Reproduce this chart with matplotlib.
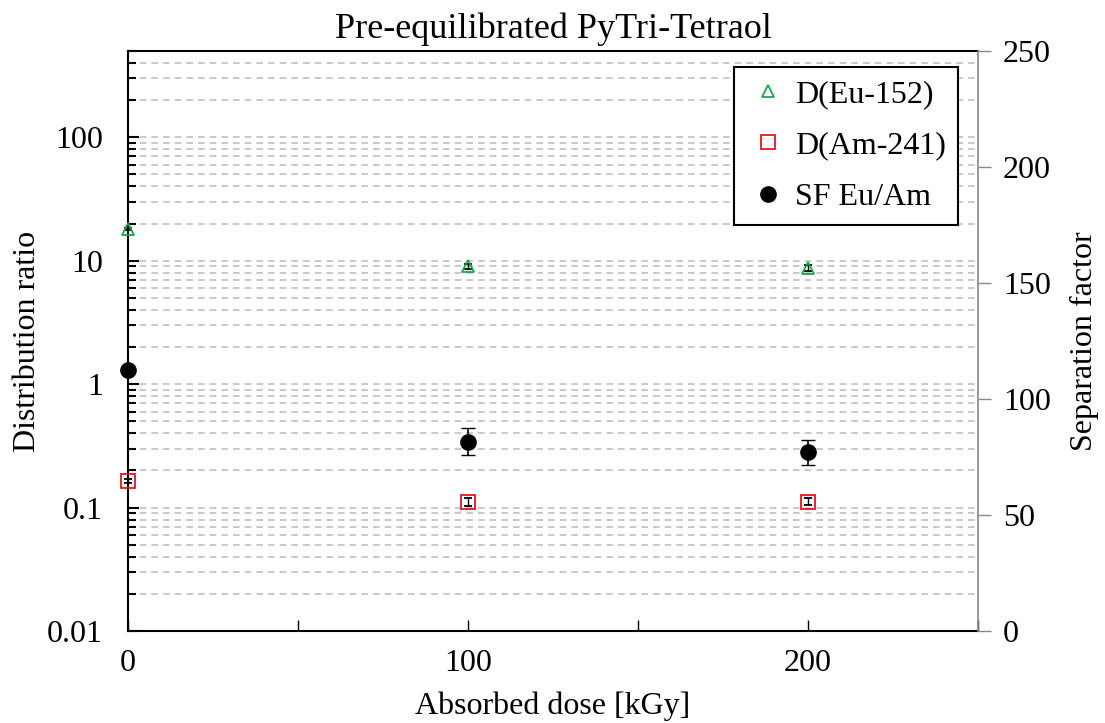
import numpy as np
import matplotlib.pyplot as plt
from matplotlib.ticker import FixedLocator, LogLocator, NullFormatter, FuncFormatter

# data
dose = [0, 100, 200]
d_eu = [18.1, 9.0, 8.75]
d_eu_err = [0.3, 0.45, 0.45]
d_am = [0.163, 0.111, 0.112]
d_am_err = [0.006, 0.008, 0.008]
sf = [112.5, 81.6, 77.0]
sf_err = [0.0, 5.9, 5.5]

x_ticks = [0, 50, 100, 150, 200, 250]
x_labels = ['0', '', '100', '', '200', '']

plt.rcParams['font.family'] = ['Liberation Serif', 'DejaVu Serif']
plt.rcParams['font.size'] = 23

fig = plt.figure(figsize=(11.05, 7.23), dpi=100)
ax = fig.add_axes([0.1158, 0.1272, 0.7692, 0.8023])
ax2 = ax.twinx()

ax.set_yscale('log')
ax.set_ylim(0.01, 500)
ax.set_xlim(0, 250)
ax2.set_ylim(0, 250)

# horizontal dashed grid at every decade step
ax.yaxis.set_major_locator(LogLocator(base=10, numticks=10))
ax.yaxis.set_minor_locator(LogLocator(base=10, subs=np.arange(2, 10), numticks=20))
ax.yaxis.set_minor_formatter(NullFormatter())
ax.yaxis.set_major_formatter(FuncFormatter(lambda v, p: '%g' % v))
ax.grid(True, which='both', axis='y', color='#c0c0c0', linestyle=(0, (4, 3)), linewidth=1.2)
ax.set_axisbelow(True)

ax.xaxis.set_major_locator(FixedLocator(x_ticks))
ax.set_xticklabels(x_labels)
ax.tick_params(axis='x', direction='in', length=8, width=1, pad=13, top=False)
ax.tick_params(axis='y', which='major', direction='in', length=8, width=1.5, pad=18)
ax.tick_params(axis='y', which='minor', direction='in', length=6, width=1.5)
for s in ['left', 'bottom', 'top']:
    ax.spines[s].set_linewidth(1.5)
ax.spines['right'].set_visible(False)

ax2.spines['right'].set_color('#888888')
ax2.spines['right'].set_linewidth(1.2)
for s in ['left', 'bottom', 'top']:
    ax2.spines[s].set_visible(False)
ax2.yaxis.set_major_locator(FixedLocator([0, 50, 100, 150, 200, 250]))
ax2.tick_params(axis='y', direction='out', length=9, width=1, color='#888888', pad=9)

h1 = ax.errorbar(dose, d_eu, yerr=d_eu_err, fmt='^', mfc='none', mec='#1aa64a', mew=1.3,
                 ms=9, ecolor='black', elinewidth=1, capsize=3, clip_on=False, zorder=5)
h2 = ax.errorbar(dose, d_am, yerr=d_am_err, fmt='s', mfc='none', mec='#e8141c', mew=1.3,
                 ms=10, ecolor='black', elinewidth=1, capsize=3, clip_on=False, zorder=5)
h3 = ax2.errorbar(dose, sf, yerr=sf_err, fmt='o', color='black', ms=11,
                  ecolor='black', elinewidth=1.2, capsize=5, clip_on=False, zorder=5)

ax.set_title('Pre-equilibrated PyTri-Tetraol', fontsize=26, pad=9)
ax.set_xlabel('Absorbed dose [kGy]', labelpad=10)
ax.set_ylabel('Distribution ratio', labelpad=4)
ax2.set_ylabel('Separation factor', labelpad=14)

handles = [h1[0], h2[0], h3[0]]
leg = ax2.legend(handles, ['D(Eu-152)', 'D(Am-241)', 'SF Eu/Am'], loc='upper right',
                 bbox_to_anchor=(0.977, 0.973), frameon=True, fancybox=False,
                 edgecolor='black', framealpha=1, labelspacing=0.7, handletextpad=0.2,
                 handlelength=1.3, borderpad=0.4, borderaxespad=0, fontsize=23)
leg.get_frame().set_linewidth(1.5)

fig.savefig('out.png', dpi=100)
